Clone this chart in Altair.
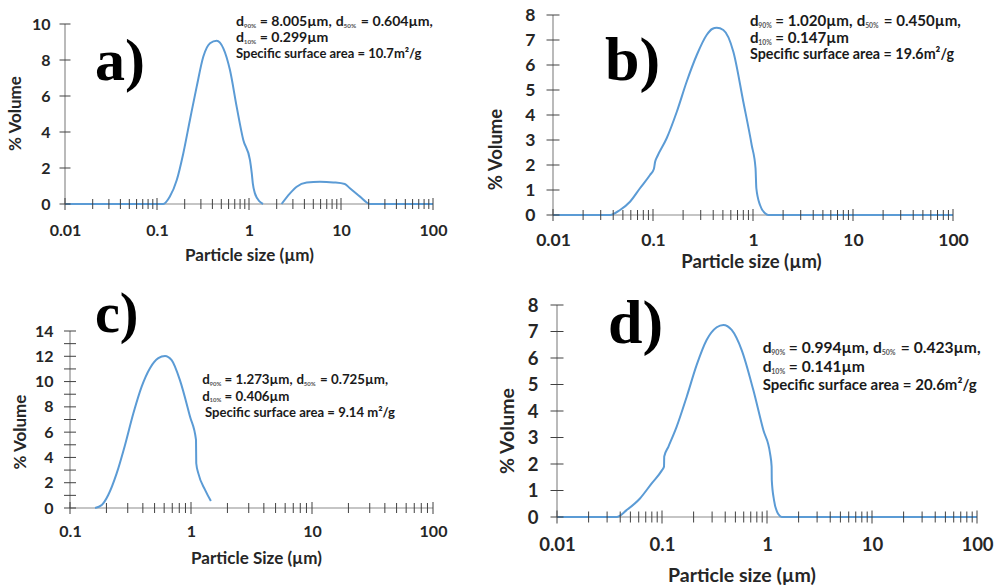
import math
import altair as alt
import pandas as pd

# ---------------- data ----------------
# a) two populations
a_size_1 = [0.01, 0.117, 0.138, 0.164, 0.193, 0.228, 0.270, 0.319, 0.377, 0.445, 0.526,
            0.621, 0.734, 0.867, 1.025, 1.072, 1.10, 1.16, 1.31, 1.42]
a_vol_1 = [0, 0, 0.41, 1.33, 2.81, 4.67, 6.52, 8.19, 8.93, 9.07, 8.65,
           7.44, 5.41, 3.56, 2.44, 1.70, 1.15, 0.59, 0.13, 0]
a_size_2 = [2.26, 2.79, 3.30, 4.24, 5.91, 8.26, 11.0, 12.5, 16.1, 20.7, 100]
a_vol_2 = [0, 0.59, 0.96, 1.19, 1.24, 1.20, 1.11, 0.87, 0.41, 0, 0]

# b)
b_size = [0.01, 0.0372, 0.0468, 0.0589, 0.0741, 0.0933, 0.102, 0.105, 0.110, 0.137, 0.173,
          0.217, 0.274, 0.344, 0.39, 0.434, 0.505, 0.636, 0.80, 0.97, 1.06, 1.08, 1.175,
          1.32, 1.42, 100]
b_vol = [0, 0, 0.20, 0.53, 1.07, 1.60, 1.84, 2.13, 2.33, 3.07, 4.13,
         5.33, 6.40, 7.20, 7.44, 7.49, 7.40, 6.53, 4.53, 2.80, 1.87, 1.07, 0.40,
         0.07, 0, 0]

# c)
c_size = [0.161, 0.183, 0.207, 0.243, 0.285, 0.334, 0.391, 0.458, 0.537, 0.610, 0.692,
          0.811, 0.981, 1.10, 1.105, 1.15, 1.31, 1.46]
c_vol = [0, 0.24, 1.03, 2.74, 4.99, 7.49, 9.60, 11.06, 11.85, 12.03, 11.70,
         10.10, 7.23, 5.38, 3.54, 2.74, 1.42, 0.55]

# d)
d_size = [0.01, 0.037, 0.046, 0.0617, 0.0798, 0.0994, 0.1045, 0.105, 0.115, 0.138, 0.172,
          0.214, 0.266, 0.332, 0.384, 0.461, 0.574, 0.741, 0.923, 1.069, 1.107, 1.110,
          1.166, 1.28, 1.38, 100]
d_vol = [0, 0, 0.26, 0.70, 1.27, 1.75, 1.90, 2.28, 2.65, 3.41, 4.54,
         5.74, 6.68, 7.16, 7.25, 7.06, 6.30, 4.79, 3.28, 2.40, 1.90, 1.40,
         0.64, 0.11, 0, 0]

x_labels_wide = [0.01, 0.1, 1, 10, 100]
x_labels_c = [0.1, 1, 10, 100]
y_labels_a = [0, 2, 4, 6, 8, 10]
y_labels_8 = [0, 1, 2, 3, 4, 5, 6, 7, 8]
y_labels_c = [0, 2, 4, 6, 8, 10, 12, 14]
y_ticks_c = list(range(0, 15))

# annotation values: d90, d50, d10, surface-area text
stats_a = ["8.005", "0.604", "0.299", "Specific surface area = 10.7m²/g"]
stats_b = ["1.020", "0.450", "0.147", "Specific surface area = 19.6m²/g"]
stats_c = ["1.273", "0.725", "0.406", "Specific surface area = 9.14 m²/g"]
stats_d = ["0.994", "0.423", "0.141", "Specific surface area = 20.6m²/g"]

FONT = "Lato"
BLUE = "#5b9bd5"
AXIS_C = "#8c8c8c"
TICK_C = "#404040"
TXT = "#262626"

one = pd.DataFrame({"k": [0]})


def log_ticks(lo, hi):
    major, minor = [], []
    k = round(math.log10(lo))
    while 10 ** k <= hi * 1.0001:
        major.append(10 ** k)
        if 10 ** (k + 1) <= hi * 1.0001:
            minor += [m * 10 ** k for m in range(2, 10)]
        k += 1
    return major, minor


def ann_pieces(stats, x, f1):
    """text pieces (text, x, line, is_sub) laid out one after another"""
    s = 0.45 * f1
    out = []
    sub_w = 1.95 * s
    p = x
    out.append(("d", p, 0, False))
    out.append(("90%", p + 0.55 * f1, 0, True))
    p = p + 0.55 * f1 + sub_w + 0.25 * f1
    out.append(("= " + stats[0] + "µm,", p, 0, False))
    p = p + 4.85 * f1 + 0.55 * f1
    out.append(("d", p, 0, False))
    out.append(("50%", p + 0.55 * f1, 0, True))
    p = p + 0.55 * f1 + sub_w + 0.35 * f1
    out.append(("= " + stats[1] + "µm,", p, 0, False))
    out.append(("d", x, 1, False))
    out.append(("10%", x + 0.55 * f1, 1, True))
    out.append(("= " + stats[2] + "µm", x + 0.55 * f1 + sub_w + 0.25 * f1, 1, False))
    return out


def panel(P):
    aw, ah = P["axis_w"], P["axis_h"]
    el, et = P["ext_left"], P["ext_top"]
    x0, x1 = P["xrange"]
    dec = math.log10(x1 / x0)
    xmin = x0 / 10 ** (el * dec / aw)
    ymax = P["ymax"]
    ytop = ymax * (ah + et) / ah
    W, H = aw + el, ah + et
    xs = alt.Scale(type="log", domain=[xmin, x1], nice=False)
    ys = alt.Scale(domain=[0, ytop], nice=False, zero=False)

    xaxis = alt.Axis(values=P["xlabels"], format="~g", domain=False, ticks=False, tickSize=0,
                     grid=False, labelFont=FONT, labelFontSize=P["label_fs"],
                     labelFontWeight="bold", labelColor=TXT, labelPadding=P["xlab_pad"],
                     labelFlush=False, labelOverlap=False, labelBaseline="top",
                     title=P["xtitle"], titleFont=FONT, titleFontSize=P["title_fs"],
                     titleFontWeight="bold", titleColor=TXT, titleX=P["xt_x"], titleY=P["xt_y"],
                     titleAlign="center", titleBaseline="middle")
    yaxis = alt.Axis(values=P["ylabels"], format="d", domain=False, ticks=False, tickSize=0,
                     grid=False, labelFont=FONT, labelFontSize=P["label_fs"],
                     labelFontWeight="bold", labelColor=TXT, labelPadding=P["ylab_pad"],
                     labelOverlap=False, offset=-el,
                     title="% Volume", titleFont=FONT, titleFontSize=P["title_fs"],
                     titleFontWeight="bold", titleColor=TXT, titleAngle=270,
                     titleX=P["yt_x"], titleY=P["yt_y"], titleAlign="center",
                     titleBaseline="middle")

    def XF(field):
        return alt.X(field, type="quantitative", scale=xs, axis=xaxis)

    def YF(field):
        return alt.Y(field, type="quantitative", scale=ys, axis=yaxis)

    def XD(v):
        return alt.X(datum=v, type="quantitative", scale=xs, axis=xaxis)

    def YD(v):
        return alt.Y(datum=v, type="quantitative", scale=ys, axis=yaxis)

    rows = []
    for i, (sz, vl) in enumerate(P["curves"]):
        for s, v in zip(sz, vl):
            rows.append({"size": s, "vol": v, "seg": i})
    cdf = pd.DataFrame(rows)

    layers = []
    # axis lines
    layers.append(alt.Chart(one).mark_rule(color=AXIS_C, strokeWidth=1.2).encode(
        x=XD(x0), x2=alt.X2(datum=x1), y=YD(0)))
    layers.append(alt.Chart(one).mark_rule(color=AXIS_C, strokeWidth=1.2).encode(
        x=XD(x0), y=YD(0), y2=alt.Y2(datum=ymax)))
    # curve
    layers.append(alt.Chart(cdf).mark_line(color=BLUE, strokeWidth=2, interpolate="monotone").encode(
        x=XF("size"), y=YF("vol"), detail="seg:N"))
    # x ticks
    major, minor = log_ticks(x0, x1)
    for vals, sz in ((minor, P["xtick"][0]), (major, P["xtick"][1])):
        layers.append(alt.Chart(pd.DataFrame({"t": vals})).mark_tick(
            orient="vertical", size=sz, thickness=1, color=TICK_C, opacity=1).encode(
            x=XF("t"), y=YD(0)))
    # y ticks
    layers.append(alt.Chart(pd.DataFrame({"t": P["yticks"]})).mark_tick(
        orient="horizontal", size=P["ytick"], thickness=1, color=TICK_C, opacity=1).encode(
        x=XD(x0), y=YF("t")))
    # panel letter
    lt, lx, ly, lfs = P["letter"]
    layers.append(alt.Chart(one).mark_text(
        text=lt, font="Liberation Serif", fontWeight="bold", fontSize=lfs, color="black",
        align="left", baseline="alphabetic").encode(x=alt.value(lx), y=alt.value(ly)))
    # annotation
    f1, f3, base = P["ann_fs"], P["ann_fs3"], P["ann_base"]
    sfs = 0.45 * f1
    pieces = ann_pieces(P["stats"], P["ann_x"], f1)
    pieces.append((P["stats"][3], P["ann_x3"], 2, False))
    for txt, px, line, sub in pieces:
        size = sfs if sub else (f3 if line == 2 else f1)
        layers.append(alt.Chart(one).mark_text(
            text=txt, font=FONT, fontWeight="bold", fontSize=size,
            color=("#555555" if sub else "#1a1a1a"), align="left",
            baseline="alphabetic").encode(
            x=alt.value(px), y=alt.value(base[line] + (0.15 * f1 if sub else 0))))
    if P.get("anchor"):
        ax, ay = P["anchor"]
        layers.append(alt.Chart(one).mark_rule(strokeOpacity=0, strokeWidth=0.01).encode(
            x=alt.value(ax), x2=alt.value(ax + 1), y=alt.value(ay), y2=alt.value(ay + 1)))
    return alt.layer(*layers).properties(width=W, height=H)


PA = dict(curves=[(a_size_1, a_vol_1), (a_size_2, a_vol_2)], xrange=(0.01, 100),
          xlabels=x_labels_wide, ymax=10, ylabels=y_labels_a, yticks=y_labels_a,
          axis_w=368, axis_h=180, ext_left=0, ext_top=9,
          label_fs=16, title_fs=17, xlab_pad=18, ylab_pad=15,
          xtitle="Particle size (µm)", xt_x=184, xt_y=51, yt_x=-49.5, yt_y=98,
          xtick=(10, 12), ytick=11, letter=("a)", 30, 65, 60),
          stats=stats_a, ann_x=171, ann_x3=171, ann_fs=14.1, ann_fs3=13,
          ann_base=[11, 27, 43], anchor=(-65, -15))
PB = dict(curves=[(b_size, b_vol)], xrange=(0.01, 100),
          xlabels=x_labels_wide, ymax=8, ylabels=y_labels_8, yticks=y_labels_8,
          axis_w=400, axis_h=200, ext_left=0, ext_top=0,
          label_fs=17.5, title_fs=18.5, xlab_pad=16, ylab_pad=18,
          xtitle="Particle size (µm)", xt_x=198, xt_y=46.5, yt_x=-57.5, yt_y=134,
          xtick=(10, 12), ytick=13, letter=("b)", 52, 65, 62),
          stats=stats_b, ann_x=197, ann_x3=197, ann_fs=15.1, ann_fs3=14.3,
          ann_base=[11, 27.5, 44])
PC = dict(curves=[(c_size, c_vol)], xrange=(0.1, 100),
          xlabels=x_labels_c, ymax=14, ylabels=y_labels_c, yticks=y_ticks_c,
          axis_w=363, axis_h=177, ext_left=5, ext_top=26,
          label_fs=16, title_fs=17, xlab_pad=15, ylab_pad=17,
          xtitle="Particle Size (µm)", xt_x=191, xt_y=50, yt_x=-50, yt_y=126.5,
          xtick=(10, 12), ytick=12, letter=("c)", 30, 27, 56),
          stats=stats_c, ann_x=137.3, ann_x3=140, ann_fs=13.3, ann_fs3=13.1,
          ann_base=[79, 95.5, 112])
PD = dict(curves=[(d_size, d_vol)], xrange=(0.01, 100),
          xlabels=x_labels_wide, ymax=8, ylabels=y_labels_8, yticks=y_labels_8,
          axis_w=420, axis_h=212, ext_left=4, ext_top=0,
          label_fs=18.5, title_fs=19.5, xlab_pad=18, ylab_pad=19,
          xtitle="Particle size (µm)", xt_x=188.5, xt_y=58, yt_x=-49.5, yt_y=125.5,
          xtick=(11, 13), ytick=13, letter=("d)", 55, 38, 62),
          stats=stats_d, ann_x=209.7, ann_x3=209.7, ann_fs=15.6, ann_fs3=15,
          ann_base=[48, 66.5, 85])

chart = alt.concat(panel(PA), panel(PB), panel(PC), panel(PD), columns=2,
                   spacing={"row": 90, "column": 120}, bounds="flush", align="each").properties(
    padding={"left": 0, "top": 0, "right": 0, "bottom": 0},
    background="white",
).configure_view(stroke=None)

chart.save("out.html", embed_options={"renderer": "svg", "actions": False})
